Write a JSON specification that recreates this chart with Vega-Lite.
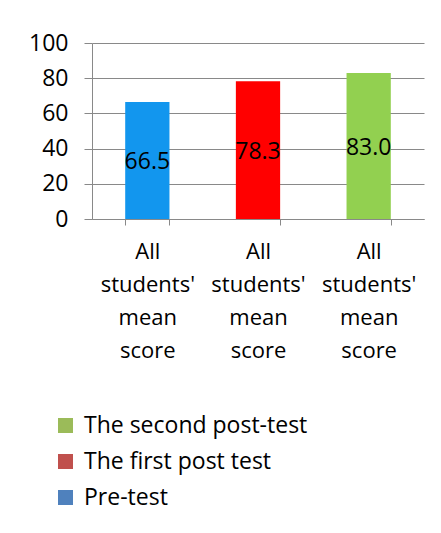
{
  "$schema": "https://vega.github.io/schema/vega-lite/v6.json",
  "autosize": "none",
  "width": 332,
  "height": 176,
  "padding": {"left": 92, "top": 43, "right": 17, "bottom": 314},
  "background": "white",
  "data": {
    "values": [
      {"test": "Pre-test", "score": 66.5},
      {"test": "The first post test", "score": 78.3},
      {"test": "The second post-test", "score": 83.0}
    ]
  },
  "encoding": {
    "x": {
      "field": "test",
      "type": "nominal",
      "sort": ["Pre-test", "The first post test", "The second post-test"],
      "scale": {"paddingInner": 0.6, "paddingOuter": 0.3},
      "axis": {
        "title": null,
        "labelAngle": 0,
        "labelExpr": "datum.label ? ['All', \"students'\", 'mean', 'score'] : ''",
        "labelFont": "Open Sans",
        "labelFontSize": 22,
        "labelColor": "black",
        "labelLineHeight": 33,
        "labelPadding": 16,
        "labelOverlap": false,
        "tickBand": "extent",
        "tickSize": 6,
        "tickColor": "#898989",
        "domainColor": "#898989",
        "grid": false
      }
    }
  },
  "layer": [
    {
      "mark": {"type": "bar"},
      "encoding": {
        "y": {
          "field": "score",
          "type": "quantitative",
          "scale": {"domain": [0, 100]},
          "axis": {
            "title": null,
            "values": [0, 20, 40, 60, 80, 100],
            "labelFont": "Open Sans",
            "labelFontSize": 23,
            "labelColor": "black",
            "labelPadding": 16,
            "labelOverlap": false,
            "labelBound": false,
            "tickSize": 8,
            "tickColor": "#898989",
            "domainColor": "#898989",
            "gridColor": "#898989",
            "gridWidth": 1
          }
        },
        "color": {
          "field": "test",
          "type": "nominal",
          "scale": {
            "domain": ["Pre-test", "The first post test", "The second post-test"],
            "range": ["#1296ee", "#ff0000", "#92d050"]
          },
          "legend": null
        }
      }
    },
    {
      "transform": [{"calculate": "datum.score / 2", "as": "mid"}],
      "mark": {"type": "text", "font": "Open Sans", "fontSize": 23, "color": "black", "baseline": "middle", "dy": 2},
      "encoding": {
        "y": {
          "field": "mid",
          "type": "quantitative",
          "scale": {"domain": [0, 100]},
          "axis": {
            "title": null,
            "values": [0, 20, 40, 60, 80, 100],
            "labelFont": "Open Sans",
            "labelFontSize": 23,
            "labelColor": "black",
            "labelPadding": 16,
            "labelOverlap": false,
            "labelBound": false,
            "tickSize": 8,
            "tickColor": "#898989",
            "domainColor": "#898989",
            "gridColor": "#898989",
            "gridWidth": 1
          }
        },
        "text": {"field": "score", "type": "quantitative", "format": ".1f"}
      }
    },
    {
      "mark": {"type": "square", "opacity": 0},
      "encoding": {
        "y": {
          "field": "score",
          "type": "quantitative",
          "scale": {"domain": [0, 100]},
          "axis": {
            "title": null,
            "values": [0, 20, 40, 60, 80, 100],
            "labelFont": "Open Sans",
            "labelFontSize": 23,
            "labelColor": "black",
            "labelPadding": 16,
            "labelOverlap": false,
            "labelBound": false,
            "tickSize": 8,
            "tickColor": "#898989",
            "domainColor": "#898989",
            "gridColor": "#898989",
            "gridWidth": 1
          }
        },
        "color": {
          "field": "test",
          "type": "nominal",
          "scale": {
            "domain": ["The second post-test", "The first post test", "Pre-test"],
            "range": ["#9bbb59", "#c0504d", "#4f81bd"]
          },
          "legend": {
            "title": null,
            "orient": "none",
            "legendX": -38,
            "legendY": 371,
            "symbolType": "square",
            "symbolSize": 225,
            "symbolOpacity": 1,
            "symbolStrokeWidth": 0,
            "labelFont": "Open Sans",
            "labelFontSize": 23,
            "labelColor": "black",
            "labelOffset": 7,
            "rowPadding": 12,
            "labelLimit": 400
          }
        }
      }
    }
  ],
  "resolve": {"scale": {"color": "independent"}},
  "config": {"view": {"stroke": null}}
}
